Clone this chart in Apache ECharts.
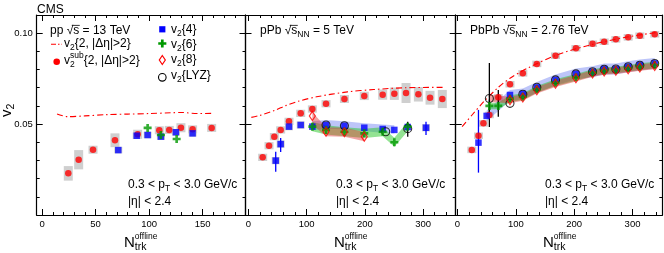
<!DOCTYPE html>
<html><head><meta charset="utf-8">
<script src="https://cdn.jsdelivr.net/npm/echarts@6/dist/echarts.min.js"></script>
<style>html,body{margin:0;padding:0;background:#fff}#c{width:664px;height:253px}</style>
</head><body><div id="c"></div>
<script>
// ---------------- DATA ----------------
// pp 13 TeV
const ppN_v22 = [14, 24, 40, 60, 80, 100, 120, 130, 145, 158];
const ppV_v22 = [0.0556, 0.0541, 0.0545, 0.0552, 0.0555, 0.0558, 0.0562, 0.0564, 0.0558, 0.0559];
const ppN_sub = [24.5, 34.2, 47.6, 68.1, 89.3, 109.5, 118.8, 129.7, 140.6, 158.4];
const ppV_sub = [0.0229, 0.0304, 0.0359, 0.0411, 0.0444, 0.0466, 0.0468, 0.048, 0.0471, 0.0479];
const ppE_sub = [0.004, 0.0053, 0.0022, 0.0038, 0.0025, 0.0022, 0.0022, 0.0025, 0.0022, 0.0022];
const ppN_v24 = [71.2, 88.4, 98.6, 111, 125, 140.6];
const ppV_v24 = [0.0357, 0.0436, 0.044, 0.0431, 0.0455, 0.0449];
const ppE_v24 = [0.0018, 0.0018, 0.0018, 0.0018, 0.0018, 0.0018];
const ppN_v26 = [98.6, 111, 125.7];
const ppV_v26 = [0.0479, 0.044, 0.0418];

// pPb 5 TeV
const pPbN_v22 = [5, 20, 45, 65, 85, 117, 170, 215, 270, 335];
const pPbV_v22 = [0.0537, 0.0548, 0.0575, 0.0603, 0.0625, 0.065, 0.0677, 0.069, 0.07, 0.0702];
const pPbN_sub = [24.5, 35.4, 44.5, 55.4, 69.7, 89.8, 109.8, 133.3, 164.9, 199, 230.6, 250.6, 270.7, 291.9, 311.9, 333];
const pPbV_sub = [0.0317, 0.0381, 0.0431, 0.0468, 0.0515, 0.0559, 0.0583, 0.0612, 0.0638, 0.0655, 0.0662, 0.0667, 0.0671, 0.0664, 0.0645, 0.0638];
const pPbE_sub = [0.002, 0.002, 0.002, 0.002, 0.002, 0.002, 0.002, 0.002, 0.0022, 0.0023, 0.0028, 0.0034, 0.0055, 0.004, 0.0038, 0.005];
const pPbN_v24 = [46.9, 55.4, 69.7, 89.8, 109.8, 133.3, 164.9, 199, 230.6, 250.6, 273.6, 305];
const pPbV_v24 = [0.0299, 0.039, 0.0486, 0.0495, 0.0486, 0.0495, 0.0491, 0.048, 0.0473, 0.0468, 0.0484, 0.048];
const pPbBoxN_v24 = [46.9, 55.4, 69.7, 89.8, 305];
const pPbBoxV_v24 = [0.0299, 0.039, 0.0486, 0.0495, 0.048];
const pPbBoxE_v24 = [0.002, 0.002, 0.002, 0.002, 0.002];
const pPbErrN_v24 = [46.9, 55.4, 305];
const pPbErrLo_v24 = [0.0238, 0.0347, 0.044];
const pPbErrHi_v24 = [0.0348, 0.0423, 0.0513];
const pPbN_v26 = [109.8, 133.3, 164.9, 199, 230.6, 250.6, 273.6];
const pPbV_v26 = [0.0486, 0.0468, 0.0458, 0.0449, 0.0458, 0.040, 0.0486];
const pPbErrN_v26 = [273.6];
const pPbErrLo_v26 = [0.0431];
const pPbErrHi_v26 = [0.0513];
const pPbN_v28 = [109.8, 133.3, 164.9, 199];
const pPbV_v28 = [0.0545, 0.0458, 0.0455, 0.0431];
const pPbN_lyz = [133.3, 164.9, 235.8, 273.6];
const pPbV_lyz = [0.0495, 0.0491, 0.0458, 0.0475];
// pPb systematic bands
const pPbBandN_v24 = [109.8, 133.3, 164.9, 199, 230.6, 250.6];
const pPbBandLo_v24 = [0.0466, 0.0475, 0.0471, 0.046, 0.0453, 0.0448];
const pPbBandHi_v24 = [0.0516, 0.0522, 0.0516, 0.0505, 0.0498, 0.0493];
const pPbBandN_v26 = [109.8, 133.3, 164.9, 199, 230.6, 250.6, 273.6];
const pPbBandLo_v26 = [0.0461, 0.0443, 0.0433, 0.0424, 0.0433, 0.0375, 0.0461];
const pPbBandHi_v26 = [0.0511, 0.0493, 0.0483, 0.0474, 0.0483, 0.0425, 0.0511];
const pPbBandN_v28 = [109.8, 133.3, 164.9, 199];
const pPbBandLo_v28 = [0.0498, 0.0433, 0.043, 0.0406];
const pPbBandHi_v28 = [0.0565, 0.0483, 0.048, 0.0456];

// PbPb 2.76 TeV
const PbN_v22 = [8, 25, 45, 70, 90, 120, 170, 227, 284, 341];
const PbV_v22 = [0.0486, 0.055, 0.0623, 0.0702, 0.0752, 0.0807, 0.088, 0.0935, 0.0975, 0.1004];
const PbN_sub = [24.6, 36, 44.5, 54.7, 70, 90, 112, 136, 168, 203, 231.5, 251.4, 271.4, 292.5, 312.5, 338];
const PbV_sub = [0.0358, 0.0436, 0.0504, 0.055, 0.0647, 0.0719, 0.0779, 0.0831, 0.0876, 0.0917, 0.0942, 0.0953, 0.0966, 0.0977, 0.0986, 0.0994];
const PbE_sub = [0.0018, 0.0018, 0.0018, 0.0018, 0.0018, 0.0018, 0.0018, 0.0018, 0.0018, 0.0018, 0.0018, 0.0018, 0.0018, 0.0018, 0.0018, 0.0018];
const PbN_v24 = [36, 50, 90, 112, 136, 168, 203, 231.5, 251.4, 271.4, 292.5, 312.5, 338];
const PbV_v24 = [0.0398, 0.0545, 0.066, 0.0666, 0.0702, 0.0743, 0.0776, 0.0788, 0.0803, 0.0803, 0.0816, 0.0825, 0.0834];
const PbErrN_v24 = [36];
const PbErrLo_v24 = [0.0233];
const PbErrHi_v24 = [0.0578];
const PbN_v26 = [54.7, 70, 90, 112, 136, 168, 203, 231.5, 251.4, 271.4, 292.5, 312.5, 338];
const PbV_v26 = [0.060, 0.060, 0.064, 0.0651, 0.0691, 0.0728, 0.0757, 0.0783, 0.0794, 0.0797, 0.0807, 0.0816, 0.0825];
const PbErrN_v26 = [54.7, 70];
const PbErrLo_v26 = [0.0565, 0.054];
const PbErrHi_v26 = [0.0635, 0.0688];
const PbN_v28 = [90, 112, 136, 168, 203, 231.5, 251.4, 271.4, 292.5, 312.5, 338];
const PbV_v28 = [0.0632, 0.0646, 0.0686, 0.0722, 0.0752, 0.0778, 0.0789, 0.0793, 0.0802, 0.0811, 0.082];
const PbN_lyz = [54.7, 90, 112, 136, 168, 203, 231.5, 251.4, 271.4, 292.5, 312.5, 338];
const PbV_lyz = [0.0641, 0.0614, 0.0664, 0.0703, 0.0743, 0.0776, 0.0788, 0.0802, 0.0803, 0.0815, 0.0824, 0.0833];
const PbErrN_lyz = [54.7];
const PbErrLo_lyz = [0.0484];
const PbErrHi_lyz = [0.0836];
// PbPb systematic bands
const PbBandN_v24 = [50, 90, 112, 136, 168, 203, 231.5, 251.4, 271.4, 292.5, 312.5, 338];
const PbBandLo_v24 = [0.0515, 0.0628, 0.0636, 0.0672, 0.0713, 0.0746, 0.0758, 0.0773, 0.0773, 0.0786, 0.0795, 0.0804];
const PbBandHi_v24 = [0.0575, 0.0688, 0.0696, 0.0732, 0.0773, 0.0806, 0.0818, 0.0833, 0.0833, 0.0846, 0.0855, 0.0864];
const PbBandN_v26 = [54.7, 70, 90, 112, 136, 168, 203, 231.5, 251.4, 271.4, 292.5, 312.5, 338];
const PbBandLo_v26 = [0.0582, 0.0582, 0.0622, 0.0633, 0.0673, 0.071, 0.0739, 0.0765, 0.0776, 0.0779, 0.0789, 0.0798, 0.0807];
const PbBandHi_v26 = [0.0618, 0.0618, 0.0658, 0.0669, 0.0709, 0.0746, 0.0775, 0.0801, 0.0812, 0.0815, 0.0825, 0.0834, 0.0843];
const PbBandN_v28 = [54.7, 90, 112, 136, 168, 203, 231.5, 251.4, 271.4, 292.5, 312.5, 338];
const PbBandLo_v28 = [0.0622, 0.0614, 0.0628, 0.0668, 0.0704, 0.0734, 0.076, 0.0771, 0.0775, 0.0784, 0.0793, 0.0802];
const PbBandHi_v28 = [0.0662, 0.065, 0.0664, 0.0704, 0.074, 0.077, 0.0796, 0.0807, 0.0811, 0.082, 0.0829, 0.0838];

// axes / ticks
const xRanges = [[-5, 190], [-5, 356], [-3, 351]];
const xMajorTicks = [[0, 50, 100, 150], [0, 100, 200, 300], [0, 100, 200, 300]];
const xMinorTicks = [
  [0, 10, 20, 30, 40, 50, 60, 70, 80, 90, 100, 110, 120, 130, 140, 150, 160, 170, 180],
  [0, 20, 40, 60, 80, 100, 120, 140, 160, 180, 200, 220, 240, 260, 280, 300, 320, 340],
  [0, 20, 40, 60, 80, 100, 120, 140, 160, 180, 200, 220, 240, 260, 280, 300, 320, 340]
];
const yRange = [0, 0.11];
const yMajorTicks = [0.05, 0.10];
const yMinorStep = 0.01;

// ---------------- STYLE ----------------
const FF = '"Liberation Sans", Arial, Helvetica, sans-serif';
const RED = '#ff0000', BLUE = '#0000ff', GREEN = '#009900', GREY = '#cfcfcf';
const CROSS = 'path://M-1,-3L1,-3L1,-1L3,-1L3,1L1,1L1,3L-1,3L-1,1L-3,1L-3,-1L-1,-1Z';
const grids = [
  {left: 36.7, top: 15, width: 208.8, height: 200},
  {left: 245.5, top: 15, width: 210.2, height: 200},
  {left: 455.7, top: 15, width: 206.6, height: 200}
];

const zip = (a, b) => a.map((v, i) => [v, b[i]]);
const zip3 = (a, b, c) => a.map((v, i) => [v, b[i], c[i]]);

const xAxis = [], yAxis = [];
grids.forEach((g, gi) => {
  const base = {gridIndex: gi, type: 'value', min: xRanges[gi][0], max: xRanges[gi][1], splitLine: {show: false}};
  const line = {show: true, onZero: false, lineStyle: {color: '#000', width: 1.2}};
  const tk = (vals, len) => ({show: true, inside: true, length: len, customValues: vals, lineStyle: {color: '#000', width: 1}});
  xAxis.push(Object.assign({}, base, {position: 'bottom', axisLine: line, axisTick: tk(xMajorTicks[gi], 6),
    axisLabel: {show: true, customValues: xMajorTicks[gi], fontSize: 9.5, color: '#000', margin: 4, fontFamily: FF}}));
  xAxis.push(Object.assign({}, base, {position: 'bottom', axisLine: {show: false, onZero: false}, axisTick: tk(xMinorTicks[gi], 3), axisLabel: {show: false}}));
  xAxis.push(Object.assign({}, base, {position: 'top', axisLine: line, axisTick: tk(xMajorTicks[gi], 6), axisLabel: {show: false}}));
  xAxis.push(Object.assign({}, base, {position: 'top', axisLine: {show: false, onZero: false}, axisTick: tk(xMinorTicks[gi], 3), axisLabel: {show: false}}));

  const yb = {gridIndex: gi, type: 'value', min: yRange[0], max: yRange[1], splitLine: {show: false}};
  yAxis.push(Object.assign({}, yb, {position: 'left', axisLine: line, axisTick: tk(yMajorTicks, 6),
    axisLabel: {show: gi === 0, customValues: yMajorTicks, formatter: v => v.toFixed(2), fontSize: 9.5, color: '#000', margin: 4, fontFamily: FF}}));
  yAxis.push(Object.assign({}, yb, {position: 'left', interval: yMinorStep, axisLine: {show: false, onZero: false},
    axisTick: {show: gi === 0, inside: true, length: 3, lineStyle: {color: '#000', width: 1}}, axisLabel: {show: false}}));
  yAxis.push(Object.assign({}, yb, {position: 'right', axisLine: line, axisTick: tk(yMajorTicks, 6), axisLabel: {show: false}}));
  yAxis.push(Object.assign({}, yb, {position: 'right', interval: yMinorStep, axisLine: {show: false, onZero: false},
    axisTick: {show: true, inside: true, length: 3, lineStyle: {color: '#000', width: 1}}, axisLabel: {show: false}}));
});

function boxes(gi, N, V, E, w) {
  return {type: 'custom', xAxisIndex: gi * 4, yAxisIndex: gi * 4, z: 1, silent: true, clip: true,
    data: zip3(N, V, E),
    renderItem: (p, api) => {
      const a = api.coord([api.value(0), api.value(1) + api.value(2)]);
      const b = api.coord([api.value(0), api.value(1) - api.value(2)]);
      return {type: 'rect', shape: {x: a[0] - w / 2, y: a[1], width: w, height: b[1] - a[1]}, style: {fill: GREY}};
    }};
}
function band(gi, N, lo, hi, color, z) {
  return {type: 'custom', xAxisIndex: gi * 4, yAxisIndex: gi * 4, z: z, silent: true, clip: true,
    data: [[N[0], lo[0]]],
    renderItem: (p, api) => {
      const pts = [];
      for (let i = 0; i < N.length; i++) pts.push(api.coord([N[i], hi[i]]));
      for (let i = N.length - 1; i >= 0; i--) pts.push(api.coord([N[i], lo[i]]));
      return {type: 'polygon', shape: {points: pts}, style: {fill: color}};
    }};
}
function errs(gi, N, lo, hi, color, z) {
  return {type: 'custom', xAxisIndex: gi * 4, yAxisIndex: gi * 4, z: z, silent: true, clip: true,
    data: zip3(N, lo, hi),
    renderItem: (p, api) => {
      const a = api.coord([api.value(0), api.value(1)]);
      const b = api.coord([api.value(0), api.value(2)]);
      return {type: 'line', shape: {x1: a[0], y1: a[1], x2: b[0], y2: b[1]}, style: {stroke: color, lineWidth: 1.3}};
    }};
}
function v22(gi, N, V) {
  return {type: 'line', xAxisIndex: gi * 4, yAxisIndex: gi * 4, z: 2, data: zip(N, V), symbol: 'none', smooth: 0.3,
    lineStyle: {color: RED, width: 1.1, type: [6, 3, 1.5, 3]}};
}
function pts(gi, N, V, kind, z) {
  const s = {type: 'scatter', xAxisIndex: gi * 4, yAxisIndex: gi * 4, z: z, data: zip(N, V), silent: true};
  if (kind === 'sub') Object.assign(s, {symbol: 'circle', symbolSize: 6.5, itemStyle: {color: RED}});
  if (kind === 'v24') Object.assign(s, {symbol: 'rect', symbolSize: 6.5, itemStyle: {color: BLUE}});
  if (kind === 'v26') Object.assign(s, {symbol: CROSS, symbolSize: 8, itemStyle: {color: GREEN}});
  if (kind === 'v28') Object.assign(s, {symbol: 'diamond', symbolSize: [6, 9], itemStyle: {color: 'rgba(0,0,0,0)', borderColor: RED, borderWidth: 1.2}});
  if (kind === 'lyz') Object.assign(s, {symbol: 'circle', symbolSize: 8, itemStyle: {color: 'rgba(0,0,0,0)', borderColor: '#000', borderWidth: 1.1}});
  return s;
}

const BAND_BLUE = 'rgba(90,110,240,0.40)';
const BAND_GREEN = 'rgba(40,200,40,0.50)';
const BAND_RED = 'rgba(225,50,50,0.45)';

const series = [
  // pp
  boxes(0, ppN_sub, ppV_sub, ppE_sub, 9),
  boxes(0, ppN_v24, ppV_v24, ppE_v24, 8),
  v22(0, ppN_v22, ppV_v22),
  pts(0, ppN_sub, ppV_sub, 'sub', 3),
  pts(0, ppN_v24, ppV_v24, 'v24', 4),
  pts(0, ppN_v26, ppV_v26, 'v26', 5),
  // pPb
  boxes(1, pPbN_sub, pPbV_sub, pPbE_sub, 9),
  boxes(1, pPbBoxN_v24, pPbBoxV_v24, pPbBoxE_v24, 8),
  band(1, pPbBandN_v24, pPbBandLo_v24, pPbBandHi_v24, BAND_BLUE, 1),
  band(1, pPbBandN_v26, pPbBandLo_v26, pPbBandHi_v26, BAND_GREEN, 1),
  band(1, pPbBandN_v28, pPbBandLo_v28, pPbBandHi_v28, BAND_RED, 1),
  v22(1, pPbN_v22, pPbV_v22),
  errs(1, pPbErrN_v24, pPbErrLo_v24, pPbErrHi_v24, BLUE, 3),
  errs(1, pPbErrN_v26, pPbErrLo_v26, pPbErrHi_v26, '#000', 3),
  pts(1, pPbN_sub, pPbV_sub, 'sub', 3),
  pts(1, pPbN_v24, pPbV_v24, 'v24', 4),
  pts(1, pPbN_lyz, pPbV_lyz, 'lyz', 5),
  pts(1, pPbN_v26, pPbV_v26, 'v26', 6),
  pts(1, pPbN_v28, pPbV_v28, 'v28', 7),
  // PbPb
  boxes(2, PbN_sub, PbV_sub, PbE_sub, 9),
  band(2, PbBandN_v24, PbBandLo_v24, PbBandHi_v24, BAND_BLUE, 1),
  band(2, PbBandN_v26, PbBandLo_v26, PbBandHi_v26, BAND_GREEN, 1),
  band(2, PbBandN_v28, PbBandLo_v28, PbBandHi_v28, BAND_RED, 1),
  v22(2, PbN_v22, PbV_v22),
  errs(2, PbErrN_v24, PbErrLo_v24, PbErrHi_v24, BLUE, 3),
  errs(2, PbErrN_v26, PbErrLo_v26, PbErrHi_v26, '#000', 3),
  errs(2, PbErrN_lyz, PbErrLo_lyz, PbErrHi_lyz, '#000', 3),
  pts(2, PbN_sub, PbV_sub, 'sub', 3),
  pts(2, PbN_v24, PbV_v24, 'v24', 4),
  pts(2, PbN_lyz, PbV_lyz, 'lyz', 5),
  pts(2, PbN_v26, PbV_v26, 'v26', 6),
  pts(2, PbN_v28, PbV_v28, 'v28', 7)
];

// ---------------- TEXT (graphic) ----------------
const mctx = document.createElement('canvas').getContext('2d');
function tw(t, s) { mctx.font = s + 'px ' + FF; return mctx.measureText(t).width; }
function runs(x, base, parts) {
  const els = [], xs = []; let cx = x;
  parts.forEach(p => {
    const [t, s, dy, noAdv] = p;
    xs.push(cx);
    els.push({type: 'text', x: cx, y: base + (dy || 0) - 0.35 * s, z: 100,
      style: {text: t, font: s + 'px ' + FF, fill: '#000', align: 'left', verticalAlign: 'middle', textAlign: 'left', textVerticalAlign: 'middle'}});
    if (!noAdv) cx += tw(t, s);
  });
  xs.push(cx);
  return {els, xs};
}
const G = [];
function add(r) { r.els.forEach(e => G.push(e)); return r; }
function overline(r, idxS, base) {
  const x1 = r.xs[idxS] - 1.5, x2 = r.xs[idxS + 1] + 0.5;
  G.push({type: 'line', z: 100, shape: {x1: x1, y1: base - 9.6, x2: x2, y2: base - 9.6}, style: {stroke: '#000', lineWidth: 0.8}});
}
add(runs(37, 13.5, [['CMS', 12, 0]]));
let r = add(runs(50, 35, [['pp ', 12], ['√', 12], ['s', 12], [' = 13 TeV', 12]])); overline(r, 2, 35);
r = add(runs(260, 35, [['pPb ', 12], ['√', 12], ['s', 12], ['NN', 8.5, 3], [' = 5 TeV', 12]])); overline(r, 2, 35);
r = add(runs(470, 35, [['PbPb ', 12], ['√', 12], ['s', 12], ['NN', 8.5, 3], [' = 2.76 TeV', 12]])); overline(r, 2, 35);

// legend
G.push({type: 'line', z: 100, shape: {x1: 51, y1: 44.3, x2: 62, y2: 44.3}, style: {stroke: RED, lineWidth: 1.1, lineDash: [5, 2, 1.5, 2]}});
add(runs(64, 48, [['v', 12], ['2', 8.5, 3], ['{2, |Δη|>2}', 12]]));
G.push({type: 'circle', z: 100, shape: {cx: 56.7, cy: 61.7, r: 3.3}, style: {fill: RED}});
add(runs(64, 64.5, [['v', 12], ['2', 8.5, 3.5, true], ['sub', 8.5, -5.5], ['{2, |Δη|>2}', 12]]));

G.push({type: 'rect', z: 100, shape: {x: 159.2, y: 26.2, width: 6.2, height: 6.2}, style: {fill: BLUE}});
add(runs(171, 33.5, [['v', 12], ['2', 8.5, 3], ['{4}', 12]]));
(function () {
  const cx = 162.3, cy = 43.5, k = 1.35;
  const p = [[-1,-3],[1,-3],[1,-1],[3,-1],[3,1],[1,1],[1,3],[-1,3],[-1,1],[-3,1],[-3,-1],[-1,-1]].map(q => [cx + q[0] * k, cy + q[1] * k]);
  G.push({type: 'polygon', z: 100, shape: {points: p}, style: {fill: GREEN}});
})();
add(runs(171, 48.5, [['v', 12], ['2', 8.5, 3], ['{6}', 12]]));
G.push({type: 'polygon', z: 100, shape: {points: [[162.3, 55.5], [165.3, 60], [162.3, 64.5], [159.3, 60]]}, style: {fill: 'none', stroke: RED, lineWidth: 1.2}});
add(runs(171, 64, [['v', 12], ['2', 8.5, 3], ['{8}', 12]]));
G.push({type: 'circle', z: 100, shape: {cx: 162.3, cy: 77.3, r: 3.8}, style: {fill: 'none', stroke: '#000', lineWidth: 1.1}});
add(runs(171, 80, [['v', 12], ['2', 8.5, 3], ['{LYZ}', 12]]));

// kinematic annotations
[128, 336, 545].forEach(x => {
  add(runs(x, 189, [['0.3 < p', 12], ['T', 8.5, 3], [' < 3.0 GeV/c', 12]]));
  add(runs(x, 205.5, [['|η| < 2.4', 12]]));
});
// x titles
[124, 334, 543].forEach(x => {
  add(runs(x, 248.3, [['N', 15], ['offline', 8.5, -9, true], ['trk', 10.5, 2.2]]));
});
// y title (rotated)
(function () {
  const rr = runs(0, 0, [['v', 15], ['2', 10.5, 3]]);
  G.push({type: 'group', x: 11.8, y: 117, rotation: Math.PI / 2, children: rr.els});
})();

const chart = echarts.init(document.getElementById('c'), null, {renderer: 'canvas'});
chart.setOption({
  animation: false,
  backgroundColor: '#fff',
  grid: grids,
  xAxis: xAxis,
  yAxis: yAxis,
  series: series,
  graphic: {elements: G}
});
</script></body></html>
